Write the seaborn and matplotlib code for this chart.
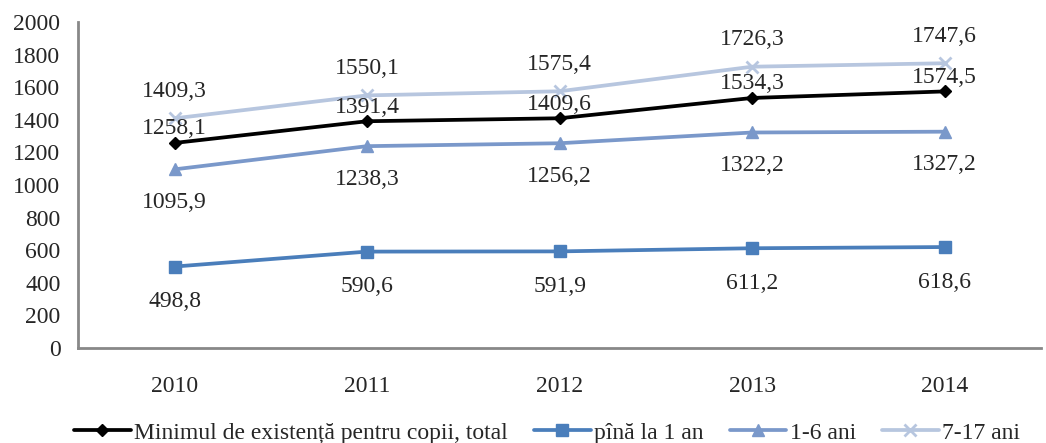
import numpy as np
import pandas as pd
import matplotlib
matplotlib.use("Agg")
import matplotlib.pyplot as plt
import seaborn as sns

years = ["2010", "2011", "2012", "2013", "2014"]
total = [1258.1, 1391.4, 1409.6, 1534.3, 1574.5]
under_1 = [498.8, 590.6, 591.9, 611.2, 618.6]
age_1_6 = [1095.9, 1238.3, 1256.2, 1322.2, 1327.2]
age_7_17 = [1409.3, 1550.1, 1575.4, 1726.3, 1747.6]

series_names = ["Minimul de existență pentru copii, total", "pînă la 1 an",
                "1-6 ani", "7-17 ani"]
series_values = [total, under_1, age_1_6, age_7_17]

sns.set_style("white")
plt.rcParams["font.family"] = ["Liberation Serif", "DejaVu Serif"]

colors = ["#000000", "#4A7EBB", "#7A98CA", "#B7C6DF"]
markers = ["D", "s", "^", "x"]
msizes = [6, 8, 9, 9]
label_offsets = [14, -35, -33, 27]  # pixels from marker

fig, ax = plt.subplots(figsize=(10.46, 4.43), dpi=100)
xs = np.arange(len(years))

for name, vals, c, m, ms, off in zip(series_names, series_values, colors,
                                     markers, msizes, label_offsets):
    df = pd.DataFrame({"x": xs, "y": vals})
    sns.lineplot(data=df, x="x", y="y", ax=ax, color=c, marker=m,
                 markersize=ms, linewidth=2.7, label=name,
                 markeredgecolor=c, markeredgewidth=2 if m == "x" else 1)
    for x, v in zip(xs, vals):
        ax.annotate(f"{v:.1f}".replace(".", ","), (x, v),
                    xytext=(0, off * 0.72), textcoords="offset points",
                    ha="center", va="center", fontsize=17)

ax.set_xlim(-0.5, len(years) - 0.5)
ax.set_ylim(0, 2000)
ax.set_yticks(range(0, 2001, 200))
ax.set_xticks(xs)
ax.set_xticklabels(years)
ax.set_xticks(np.arange(-0.5, len(years), 1), minor=True)
ax.tick_params(axis="x", which="major", length=0, pad=20, labelsize=17)
ax.tick_params(axis="x", which="minor", length=5, color="#888888", width=1.5,
               direction="out")
ax.tick_params(axis="y", length=5, color="#888888", width=1.5, labelsize=17,
               pad=8, direction="out")
ax.set_xlabel("")
ax.set_ylabel("")
for side in ["top", "right"]:
    ax.spines[side].set_visible(False)
for side in ["left", "bottom"]:
    ax.spines[side].set_color("#888888")
    ax.spines[side].set_linewidth(2)

ax.legend(loc="upper center", bbox_to_anchor=(0.487, -0.228), ncol=4,
          frameon=False, fontsize=17, handlelength=2.4, handletextpad=0.15,
          columnspacing=1.1, borderaxespad=0, borderpad=0)

fig.subplots_adjust(left=0.075, right=0.995, top=0.95, bottom=0.215)
fig.savefig("out.png", dpi=100)
